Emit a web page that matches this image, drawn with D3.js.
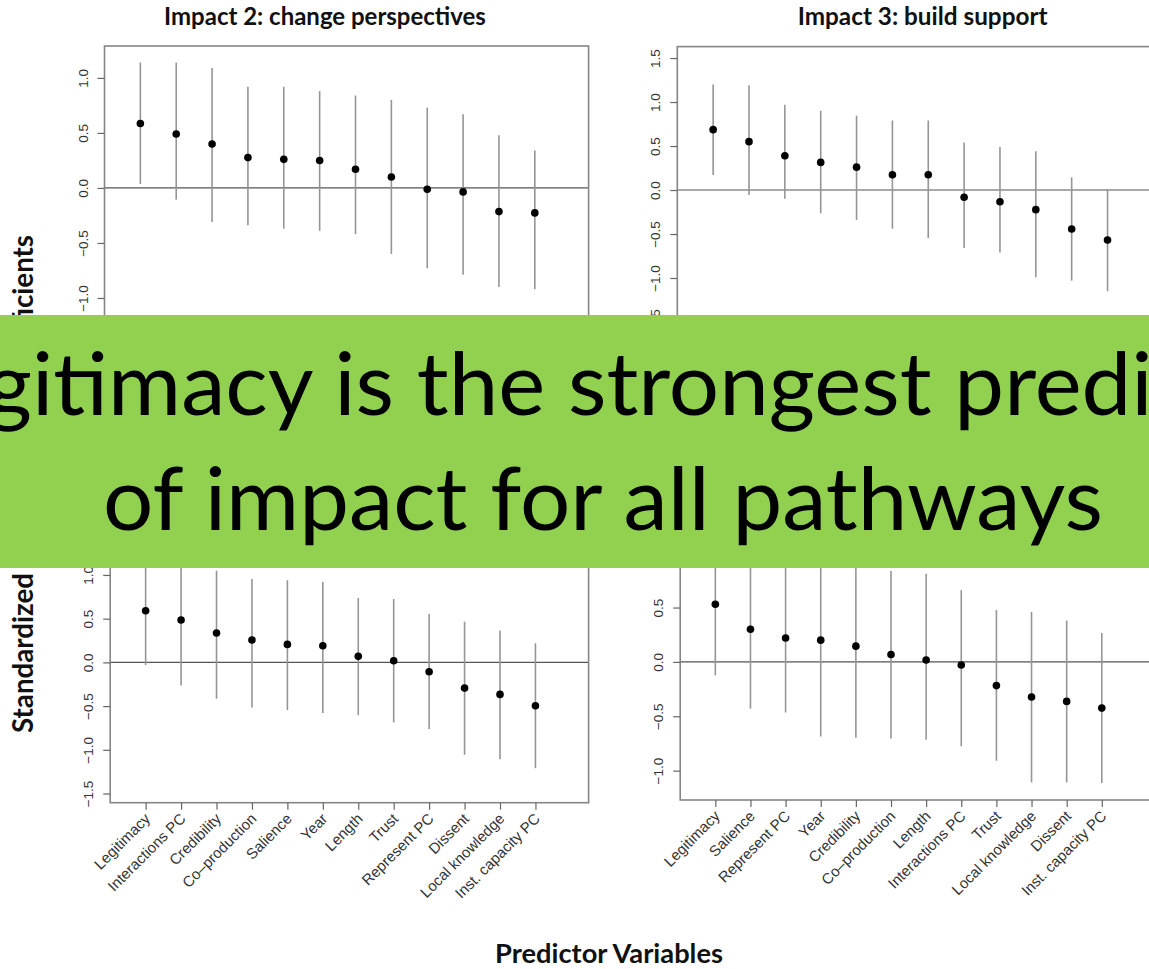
<!DOCTYPE html>
<html>
<head>
<meta charset="utf-8">
<script src="https://cdn.jsdelivr.net/npm/d3@7"></script>
<style>
  body { margin: 0; background: #fff; }
  svg { display: block; }
</style>
</head>
<body>
<svg id="chart"></svg>
<script>
// predictor names, bottom panels (top panels' names are hidden under the banner)
var labelsBL = ["Legitimacy", "Interactions PC", "Credibility", "Co\u2013production", "Salience", "Year",
  "Length", "Trust", "Represent PC", "Dissent", "Local knowledge", "Inst. capacity PC"];
var labelsBR = ["Legitimacy", "Salience", "Represent PC", "Year", "Credibility", "Co\u2013production",
  "Length", "Interactions PC", "Trust", "Local knowledge", "Dissent", "Inst. capacity PC"];

// Impact 2: change perspectives
var estTL = [0.585, 0.49, 0.40, 0.276, 0.26, 0.25, 0.17, 0.10, -0.012, -0.036, -0.215, -0.227];
var lowTL = [0.036, -0.106, -0.31, -0.34, -0.37, -0.39, -0.42, -0.60, -0.73, -0.79, -0.90, -0.92];
var highTL = [1.14, 1.14, 1.09, 0.92, 0.92, 0.88, 0.84, 0.80, 0.73, 0.67, 0.48, 0.34];

// Impact 3: build support
var estTR = [0.686, 0.55, 0.39, 0.314, 0.26, 0.174, 0.174, -0.083, -0.133, -0.223, -0.443, -0.568];
var lowTR = [0.17, -0.057, -0.10, -0.265, -0.34, -0.44, -0.545, -0.66, -0.71, -0.99, -1.03, -1.15];
var highTR = [1.20, 1.19, 0.97, 0.90, 0.845, 0.79, 0.79, 0.54, 0.49, 0.44, 0.144, 0.01];

// bottom left panel
var estBL = [0.59, 0.485, 0.336, 0.256, 0.206, 0.19, 0.069, 0.019, -0.107, -0.294, -0.366, -0.496];
var lowBL = [-0.03, -0.263, -0.416, -0.515, -0.546, -0.58, -0.603, -0.687, -0.763, -1.057, -1.107, -1.21];
var highBL = [1.21, 1.23, 1.05, 0.954, 0.94, 0.92, 0.737, 0.725, 0.553, 0.466, 0.366, 0.218];

// bottom right panel
var estBR = [0.53, 0.30, 0.22, 0.20, 0.145, 0.068, 0.018, -0.028, -0.218, -0.323, -0.363, -0.425];
var lowBR = [-0.123, -0.43, -0.465, -0.686, -0.698, -0.705, -0.717, -0.775, -0.908, -1.108, -1.108, -1.114];
var highBR = [1.18, 1.03, 0.90, 1.09, 0.99, 0.837, 0.81, 0.66, 0.477, 0.46, 0.38, 0.265];

var yTicksTL = [-1.5, -1.0, -0.5, 0.0, 0.5, 1.0];
var yTicksTR = [-1.5, -1.0, -0.5, 0.0, 0.5, 1.0, 1.5];
var yTicksBL = [-1.5, -1.0, -0.5, 0.0, 0.5, 1.0];
var yTicksBR = [-1.0, -0.5, 0.0, 0.5, 1.0];

var titles = ["Impact 2: change perspectives", "Impact 3: build support"];
var bannerLines = ["Legitimacy is the strongest predictor", "of impact for all pathways"];

const W = 1149, H = 969;
const svg = d3.select('#chart').attr('width', W).attr('height', H);

const panels = [
  { est: estTL, low: lowTL, high: highTL, ticks: yTicksTL, labels: null,
    left: 104.5, right: 588.6, yDom: [-1.6, 1.29], yRange: [364, 46] },
  { est: estTR, low: lowTR, high: highTR, ticks: yTicksTR, labels: null,
    left: 677.3, right: 1161.3, yDom: [-1.75, 1.63], yRange: [344, 46.6] },
  { est: estBL, low: lowBL, high: highBL, ticks: yTicksBL, labels: labelsBL,
    left: 110.2, right: 588.6, yDom: [-1.605, 1.4], yRange: [802.7, 540] },
  { est: estBR, low: lowBR, high: highBR, ticks: yTicksBR, labels: labelsBR,
    left: 680.2, right: 1154.5, yDom: [-1.27, 1.25], yRange: [800, 526] }
];

const fmt = v => d3.format('.1f')(v).replace('-', '\u2212');

panels.forEach(function (p) {
  const g = svg.append('g');
  const x = d3.scaleLinear().domain([0, 13.5]).range([p.left, p.right]);
  const y = d3.scaleLinear().domain(p.yDom).range(p.yRange);
  const idx = d3.range(p.est.length);

  // zero line
  g.append('line')
    .attr('x1', p.left).attr('x2', p.right)
    .attr('y1', y(0)).attr('y2', y(0))
    .attr('stroke', '#555').attr('stroke-width', 1.2);

  // interval lines
  g.selectAll('line.ci').data(idx).enter().append('line')
    .attr('class', 'ci')
    .attr('x1', i => x(i + 1)).attr('x2', i => x(i + 1))
    .attr('y1', i => y(p.low[i])).attr('y2', i => y(p.high[i]))
    .attr('stroke', '#959595').attr('stroke-width', 1.6);

  // estimates
  g.selectAll('circle').data(idx).enter().append('circle')
    .attr('cx', i => x(i + 1)).attr('cy', i => y(p.est[i]))
    .attr('r', 3.8).attr('fill', '#000');

  // box
  g.append('rect')
    .attr('x', p.left).attr('y', p.yRange[1])
    .attr('width', p.right - p.left).attr('height', p.yRange[0] - p.yRange[1])
    .attr('fill', 'none').attr('stroke', '#858585').attr('stroke-width', 1.6);

  // y axis
  const yAxis = d3.axisLeft(y).tickValues(p.ticks).tickSize(7).tickFormat(fmt);
  const ya = g.append('g').attr('transform', `translate(${p.left},0)`).call(yAxis);
  ya.select('.domain').remove();
  ya.selectAll('.tick line').attr('stroke', '#666').attr('stroke-width', 1.2);
  ya.selectAll('.tick text')
    .attr('x', null).attr('dy', null)
    .attr('transform', 'translate(-17,0) rotate(-90)')
    .attr('text-anchor', 'middle')
    .attr('font-family', 'Liberation Sans, Arial, sans-serif')
    .attr('font-size', 13.5).attr('fill', '#333');

  // x axis
  if (p.labels) {
    const xAxis = d3.axisBottom(x).tickValues(idx.map(i => i + 1)).tickSize(7)
      .tickFormat(v => p.labels[v - 1]);
    const xa = g.append('g').attr('transform', `translate(0,${p.yRange[0]})`).call(xAxis);
    xa.select('.domain').remove();
    xa.selectAll('.tick line').attr('stroke', '#666').attr('stroke-width', 1.2);
    xa.selectAll('.tick text')
      .attr('y', null).attr('dy', null)
      .attr('transform', 'translate(5,17) rotate(-45)')
      .attr('text-anchor', 'end')
      .attr('font-family', 'Liberation Sans, Arial, sans-serif')
      .attr('font-size', 15).attr('fill', '#333');
  }
});

// fit a text element to a given width
function fit(sel, width) {
  const w = sel.node().getComputedTextLength();
  sel.attr('font-size', parseFloat(sel.attr('font-size')) * width / w);
  return sel;
}

const bold = { family: 'Lato, "Open Sans", sans-serif', weight: 700 };

// panel titles
[[325, 322], [922.6, 250]].forEach(function (t, i) {
  fit(svg.append('text')
    .attr('x', t[0]).attr('y', 25)
    .attr('text-anchor', 'middle')
    .attr('font-family', bold.family).attr('font-weight', bold.weight)
    .attr('font-size', 20).attr('fill', '#111')
    .text(titles[i]), t[1]);
});

// axis titles
const sd = svg.append('text')
  .attr('transform', 'translate(33,733) rotate(-90)')
  .attr('font-family', bold.family).attr('font-weight', bold.weight)
  .attr('font-size', 24).attr('fill', '#111')
  .text('Standardized');
fit(sd, 160);
svg.append('text')
  .attr('transform', 'translate(33,235) rotate(-90)')
  .attr('text-anchor', 'end')
  .attr('font-family', bold.family).attr('font-weight', bold.weight)
  .attr('font-size', sd.attr('font-size')).attr('fill', '#111')
  .text('Coefficients');

fit(svg.append('text')
  .attr('x', 609).attr('y', 963)
  .attr('text-anchor', 'middle')
  .attr('font-family', bold.family).attr('font-weight', bold.weight)
  .attr('font-size', 22).attr('fill', '#111')
  .text('Predictor Variables'), 228);

// green banner on top
svg.append('rect')
  .attr('x', 0).attr('y', 315).attr('width', W).attr('height', 253)
  .attr('fill', '#92d050');

// banner text: tall like the slide font, squeezed to its width
const bannerSize = 88;
const l2 = svg.append('text')
  .attr('text-anchor', 'middle')
  .attr('font-family', 'Lato, "Open Sans", sans-serif')
  .attr('font-size', bannerSize).attr('fill', '#000')
  .text(bannerLines[1]);
const sx = 1000 / l2.node().getComputedTextLength();
l2.attr('transform', `translate(603,530) scale(${sx},1)`);
svg.append('text')
  .attr('transform', `translate(603,415) scale(${sx},1)`)
  .attr('text-anchor', 'middle')
  .attr('font-family', 'Lato, "Open Sans", sans-serif')
  .attr('font-size', bannerSize).attr('fill', '#000')
  .text(bannerLines[0]);
</script>
</body>
</html>
